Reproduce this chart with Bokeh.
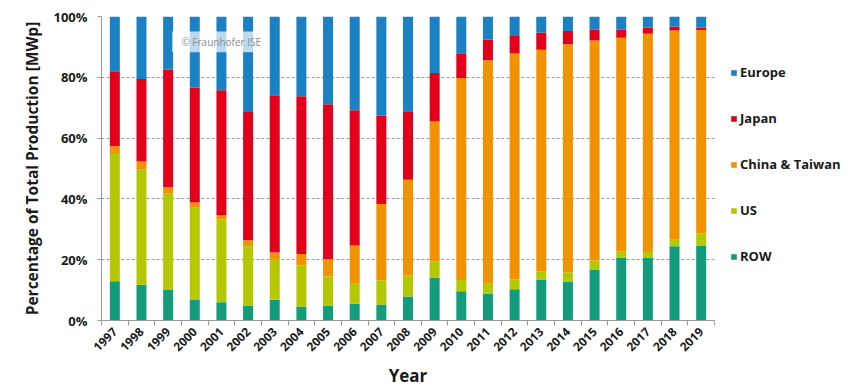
import math
from bokeh.plotting import figure
from bokeh.models import (ColumnDataSource, Range1d, FixedTicker, Legend, LegendItem,
                          BoxAnnotation, Label, PrintfTickFormatter)
from bokeh.embed import file_html
from bokeh.resources import INLINE

years = ["1997", "1998", "1999", "2000", "2001", "2002", "2003", "2004", "2005", "2006",
         "2007", "2008", "2009", "2010", "2011", "2012", "2013", "2014", "2015", "2016",
         "2017", "2018", "2019"]
row = [12.9, 11.8, 10.2, 6.9, 6.0, 4.9, 6.8, 4.6, 4.9, 5.5, 5.3, 7.9, 14.1, 9.6, 8.9,
       10.3, 13.5, 12.8, 16.8, 20.7, 20.7, 24.4, 24.7]
us = [41.9, 37.8, 31.5, 30.2, 27.2, 19.5, 13.4, 13.5, 9.6, 6.8, 7.9, 6.9, 5.3, 3.7, 3.4,
      3.2, 2.7, 3.1, 2.9, 2.0, 1.8, 2.2, 3.9]
china = [2.5, 2.7, 2.2, 1.7, 1.5, 2.0, 2.2, 3.8, 5.7, 12.4, 25.1, 31.5, 46.1, 66.4, 73.3,
         74.3, 72.9, 75.0, 72.4, 70.3, 71.8, 68.8, 67.0]
japan = [24.7, 27.1, 38.7, 37.8, 41.0, 42.2, 51.7, 51.9, 50.9, 44.5, 29.1, 22.5, 15.9,
         8.2, 6.8, 5.8, 5.6, 4.3, 3.6, 2.7, 2.0, 1.3, 0.7]
europe = [18.0, 20.6, 17.4, 23.4, 24.3, 31.4, 25.9, 26.2, 28.9, 30.8, 32.6, 31.2, 18.6,
          12.1, 7.6, 6.4, 5.3, 4.8, 4.3, 4.3, 3.7, 3.3, 3.7]

series_names = ["ROW", "US", "China & Taiwan", "Japan", "Europe"]
series_keys = ["row", "us", "china", "japan", "europe"]
colors = ["#129c7c", "#b4c800", "#f39200", "#e2001a", "#1a82c4"]

centers = [i + 0.5 for i in range(len(years))]
source = ColumnDataSource(dict(x=centers, row=row, us=us, china=china, japan=japan, europe=europe))

FONT = "Open Sans"

p = figure(frame_width=613, frame_height=304, output_backend="svg", toolbar_location=None,
           x_range=Range1d(0, len(years)), y_range=Range1d(0, 100),
           min_border_left=101, min_border_right=10, min_border_top=16, min_border_bottom=59)
p.outline_line_color = None
p.background_fill_color = "white"

renderers = p.vbar_stack(series_keys, x="x", width=0.375, color=colors, source=source,
                         line_color=None)

# axes
p.xaxis.ticker = FixedTicker(ticks=centers, minor_ticks=list(range(len(years) + 1)))
p.xaxis.major_label_overrides = {c: y for c, y in zip(centers, years)}
p.xaxis.major_label_orientation = math.pi / 4
p.xaxis.major_tick_out = 0
p.xaxis.major_tick_in = 0
p.xaxis.minor_tick_out = 5
p.xaxis.minor_tick_in = 0
p.xaxis.minor_tick_line_color = "#999999"
p.xaxis.axis_line_color = "#999999"
p.xaxis.major_label_text_font = FONT
p.xaxis.major_label_text_font_style = "bold"
p.xaxis.major_label_text_font_size = "12px"
p.xaxis.major_label_text_color = "#1a1a1a"
p.xaxis.major_label_standoff = 4
p.xaxis.axis_label = "Year"
p.xaxis.axis_label_text_font = FONT
p.xaxis.axis_label_text_font_style = "bold"
p.xaxis.axis_label_text_font_size = "17px"
p.xaxis.axis_label_text_color = "#1a1a1a"
p.xaxis.axis_label_standoff = 6

p.yaxis.ticker = FixedTicker(ticks=[0, 20, 40, 60, 80, 100])
p.yaxis.formatter = PrintfTickFormatter(format="%d%%")
p.yaxis.major_tick_out = 4
p.yaxis.major_tick_in = 0
p.yaxis.minor_tick_line_color = None
p.yaxis.axis_line_color = "#999999"
p.yaxis.major_tick_line_color = "#999999"
p.yaxis.major_label_text_font = FONT
p.yaxis.major_label_text_font_style = "bold"
p.yaxis.major_label_text_font_size = "13px"
p.yaxis.major_label_text_color = "#1a1a1a"
p.yaxis.major_label_standoff = 10
p.yaxis.axis_label = "Percentage of Total Production [MWp]"
p.yaxis.axis_label_text_font = FONT
p.yaxis.axis_label_text_font_style = "bold"
p.yaxis.axis_label_text_font_size = "15.5px"
p.yaxis.axis_label_text_color = "#1a1a1a"
p.yaxis.axis_label_standoff = 7

p.xgrid.grid_line_color = None
p.ygrid.grid_line_color = "#9a9a9a"
p.ygrid.grid_line_dash = "3 2"
p.ygrid.grid_line_width = 1

# watermark
p.add_layout(BoxAnnotation(left=2.65, right=5.74, bottom=88.2, top=95.1,
                           fill_color="white", fill_alpha=0.7, line_color=None))
p.add_layout(Label(x=3.0, y=91.7, text="© Fraunhofer ISE", text_baseline="middle",
                   text_font=FONT, text_font_size="10px", text_color="#8a8a8a"))

# legend (top to bottom: Europe, Japan, China & Taiwan, US, ROW)
items = [LegendItem(label=series_names[i], renderers=[renderers[i]]) for i in range(4, -1, -1)]
legend = Legend(items=items, location=(16, 54), border_line_color=None,
                background_fill_alpha=0, glyph_width=7, glyph_height=7,
                label_text_font=FONT, label_text_font_style="bold",
                label_text_font_size="13px", label_text_color="#1a1a1a",
                label_height=20, spacing=26, label_standoff=3, margin=16, padding=10)
p.add_layout(legend, "right")

open("out.html", "w").write(file_html(p, INLINE))
